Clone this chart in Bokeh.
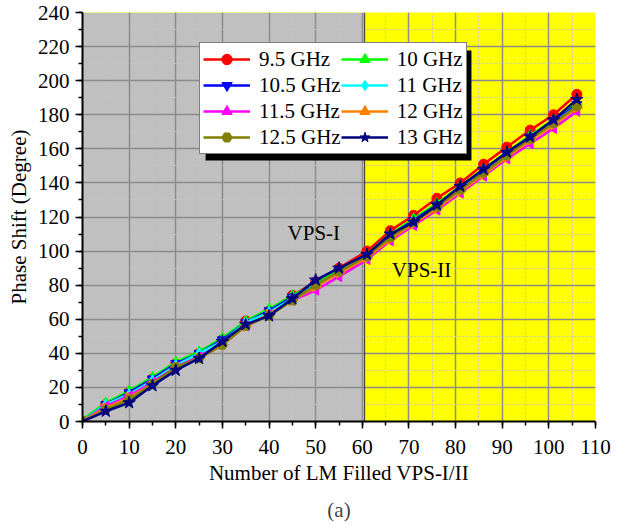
import math
from bokeh.plotting import figure
from bokeh.models import (Range1d, BoxAnnotation, Span, Label, Legend, LegendItem,
                          Title, SingleIntervalTicker)
from bokeh.embed import file_html
from bokeh.resources import INLINE

# ---------------- data ----------------
lm_cells = [0, 5, 10, 15, 20, 25, 30, 35, 40, 45, 50, 55, 61, 66, 71, 76, 81, 86, 91, 96, 101, 106]
f_9_5  = [0, 10, 17, 25, 34, 40, 48, 59, 65, 74, 82, 90, 100, 112, 121, 131, 140, 151, 161, 171, 180, 192]
f_10   = [1, 11, 18, 26, 35, 41, 49, 59, 66, 74, 81, 89, 98, 110, 119, 128, 138, 148, 158, 168, 177, 187]
f_10_5 = [0, 10, 17, 25, 34, 40, 48, 58, 65, 73, 80, 88, 97, 109, 118, 127, 137, 147, 157, 167, 176, 186]
f_11   = [0, 10, 16, 24, 33, 40, 47, 58, 64, 72, 80, 88, 97, 108, 117, 126, 136, 146, 156, 166, 175, 185]
f_11_5 = [0, 9, 15, 23, 32, 38, 46, 56, 63, 71, 77, 85, 95, 106, 115, 124, 134, 144, 154, 163, 172, 182]
f_12   = [0, 8, 14, 22, 31, 37, 45, 56, 63, 71, 79, 87, 96, 107, 116, 125, 135, 145, 155, 165, 174, 184]
f_12_5 = [0, 7, 13, 22, 32, 37, 45, 56, 62, 71, 80, 88, 97, 108, 117, 126, 136, 146, 156, 166, 175, 185]
f_13   = [0, 6, 11, 21, 30, 37, 47, 57, 62, 72, 83, 90, 98, 110, 117, 127, 138, 148, 158, 167, 177, 189]

series_labels = ["9.5 GHz", "10 GHz", "10.5 GHz", "11 GHz", "11.5 GHz", "12 GHz", "12.5 GHz", "13 GHz"]
series_values = [f_9_5, f_10, f_10_5, f_11, f_11_5, f_12, f_12_5, f_13]
vps1_end = 60.5

# ---------------- styles ----------------
colors = ["#FF0000", "#00FF00", "#0000FF", "#00FFFF", "#FF00FF", "#FF8000", "#808000", "#000080"]
markers = ["circle", "triangle", "inverted_triangle", "diamond", "triangle", "triangle", "hex", "star"]
angles = [0, 0, 0, 0, math.pi / 2, -math.pi / 2, 0, 0]
sizes = [10, 10, 10, 11, 10, 10, 10, 13]

FONT = "Liberation Serif"
FS = "21px"

p = figure(width=633, height=529, output_backend="svg", toolbar_location=None,
           x_range=Range1d(0, 110), y_range=Range1d(0, 240),
           min_border_left=82, min_border_right=38, min_border_top=12, min_border_bottom=108)
p.outline_line_color = None
p.background_fill_color = "#FFFF00"
p.border_fill_color = "white"

# regions
p.add_layout(BoxAnnotation(right=vps1_end, fill_color="#C0C0C0", fill_alpha=1.0,
                           line_alpha=0, level="image"))
p.add_layout(Span(location=vps1_end, dimension="height", line_color="#303030",
                  line_width=1, level="underlay"))

xt = SingleIntervalTicker(interval=10, num_minor_ticks=2)
yt = SingleIntervalTicker(interval=20, num_minor_ticks=2)
p.xaxis.ticker = xt
p.yaxis.ticker = yt
p.xgrid.ticker = xt
p.ygrid.ticker = yt
for g in (p.xgrid, p.ygrid):
    g.grid_line_color = "#8c8c8c"
    g.grid_line_width = 1.5
    g.minor_grid_line_color = "#c4c4c4"
    g.minor_grid_line_dash = "2 2"
    g.minor_grid_line_width = 1

for ax in (p.xaxis, p.yaxis):
    ax.axis_line_width = 2
    ax.axis_line_color = "black"
    ax.major_tick_in = 0
    ax.major_tick_out = 7
    ax.minor_tick_in = 0
    ax.minor_tick_out = 4
    ax.major_tick_line_width = 1.5
    ax.minor_tick_line_width = 1.5
    ax.major_label_text_font = FONT
    ax.major_label_text_font_size = FS
    ax.major_label_text_color = "black"
    ax.axis_label_text_font = FONT
    ax.axis_label_text_font_size = FS
    ax.axis_label_text_font_style = "normal"
    ax.axis_label_text_color = "black"

p.xaxis.axis_label = "Number of LM Filled VPS-I/II"
p.yaxis.axis_label = "Phase Shift (Degree)"
p.xaxis.major_label_standoff = 11
p.xaxis.axis_label_standoff = 4
p.yaxis.major_label_standoff = 6
p.yaxis.axis_label_standoff = 4

items = []
for lab, ys, c, m, a, s in zip(series_labels, series_values, colors, markers, angles, sizes):
    rl = p.line(lm_cells, ys, line_color=c, line_width=2.5)
    rs = p.scatter(lm_cells, ys, marker=m, size=s, angle=a, fill_color=c, line_color=c)
    items.append(LegendItem(label=lab, renderers=[rl, rs]))

# region labels
p.add_layout(Label(x=49.6, y=110.5, text="VPS-I", text_font=FONT, text_font_size=FS,
                   text_align="center", text_baseline="middle", text_color="black"))
p.add_layout(Label(x=72.7, y=89.0, text="VPS-II", text_font=FONT, text_font_size=FS,
                   text_align="center", text_baseline="middle", text_color="black"))

# legend shadow
p.add_layout(BoxAnnotation(left=26.4, right=83.4, bottom=153.2, top=217.7,
                           fill_color="black", fill_alpha=1.0, line_alpha=0))

legend = Legend(items=items, ncols=2, orientation="horizontal", location=(117, 267),
                label_text_font=FONT, label_text_font_size=FS, label_text_color="black",
                glyph_width=47, glyph_height=26, label_height=26, label_standoff=9,
                spacing=0, padding=3, margin=0,
                border_line_color="black", border_line_width=1.5,
                background_fill_color="white", background_fill_alpha=1.0)
p.add_layout(legend, "center")

p.add_layout(Title(text="(a)", align="center", text_font=FONT, text_font_size=FS,
                   text_font_style="normal", standoff=16), "below")

open("out.html", "w").write(file_html(p, INLINE))
